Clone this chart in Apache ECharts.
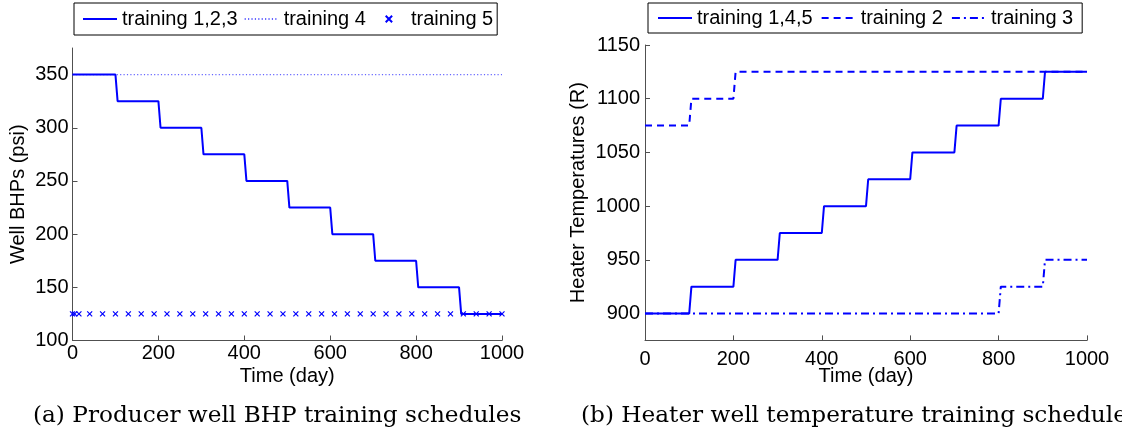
<!DOCTYPE html>
<html><head><meta charset="utf-8">
<script src="https://cdn.jsdelivr.net/npm/echarts@6/dist/echarts.min.js"></script>
<style>html,body{margin:0;padding:0;background:#fff}#c{width:1122px;height:437px}</style>
</head><body><div id="c"></div>
<script>
// ---- Panel (a): producer well BHP schedules (psi) ----
const bhpStepTimes = [0, 100, 200, 300, 400, 500, 600, 700, 800, 900, 1000];
const bhpTraining123 = [350, 325, 300, 275, 250, 225, 200, 175, 150, 125, 125];
const bhpTraining4Times = [0, 1000];
const bhpTraining4 = [350, 350];
const bhpTraining5Times = [0, 5, 15, 40, 70, 100, 130, 160, 190, 220, 250, 280, 310, 340, 370, 400, 430, 460, 490, 520, 550, 580, 610, 640, 670, 700, 730, 760, 790, 820, 850, 880, 910, 940, 970, 1000];
const bhpTraining5 = [125, 125, 125, 125, 125, 125, 125, 125, 125, 125, 125, 125, 125, 125, 125, 125, 125, 125, 125, 125, 125, 125, 125, 125, 125, 125, 125, 125, 125, 125, 125, 125, 125, 125, 125, 125];
const bhpYTicks = [100, 150, 200, 250, 300, 350];

// ---- Panel (b): heater well temperature schedules (R) ----
const heatStepTimes = [0, 100, 200, 300, 400, 500, 600, 700, 800, 900, 1000];
const heatTraining145 = [900, 925, 950, 975, 1000, 1025, 1050, 1075, 1100, 1125, 1125];
const heatTraining2 = [1075, 1100, 1125, 1125, 1125, 1125, 1125, 1125, 1125, 1125, 1125];
const heatTraining3 = [900, 900, 900, 900, 900, 900, 900, 900, 925, 950, 950];
const heatYTicks = [900, 950, 1000, 1050, 1100, 1150];

const timeTicks = [0, 200, 400, 600, 800, 1000];

const FONT = 'Liberation Sans';
const BLUE = '#0000ff';
const AXIS = '#505050';
const RAMP = 5; // days taken by each schedule change (slanted steps)

function stepPoints(times, vals) {
  const pts = [[times[0], vals[0]]];
  for (let i = 1; i < times.length; i++) {
    if (vals[i] !== vals[i - 1]) {
      pts.push([times[i], vals[i - 1]]);
      pts.push([times[i] + RAMP, vals[i]]);
    } else {
      pts.push([times[i], vals[i]]);
    }
  }
  return pts;
}
function pairs(xs, ys) { return xs.map((x, i) => [x, ys[i]]); }
const plain = v => String(v);

function xAxis(grid, labelMargin, nameGap) {
  return {
    gridIndex: grid, type: 'value', min: 0, max: 1000, interval: 200,
    name: 'Time (day)', nameLocation: 'middle', nameGap: nameGap, nameMoveOverlap: false,
    nameTextStyle: {fontFamily: FONT, fontSize: 20, color: '#000'},
    axisLine: {lineStyle: {color: AXIS, width: 1}},
    axisTick: {inside: true, length: 5, lineStyle: {color: AXIS}, customValues: timeTicks},
    axisLabel: {margin: labelMargin, fontFamily: FONT, fontSize: 20, color: '#000', customValues: timeTicks, formatter: plain},
    splitLine: {show: false}
  };
}
function yAxis(grid, min, max, ticks, name, nameGap, labelMargin) {
  return {
    gridIndex: grid, type: 'value', min: min, max: max, interval: 50,
    name: name, nameLocation: 'middle', nameGap: nameGap, nameMoveOverlap: false,
    nameTextStyle: {fontFamily: FONT, fontSize: 20, color: '#000'},
    axisLine: {show: true, lineStyle: {color: AXIS, width: 1}},
    axisTick: {show: true, inside: true, length: 5, lineStyle: {color: AXIS}, customValues: ticks},
    axisLabel: {margin: labelMargin, fontFamily: FONT, fontSize: 20, color: '#000', customValues: ticks, formatter: plain},
    splitLine: {show: false}
  };
}
function lineSeries(name, xi, data, lineStyle) {
  return {
    name: name, type: 'line', xAxisIndex: xi, yAxisIndex: xi, data: data,
    symbol: 'none', lineStyle: lineStyle, itemStyle: {color: lineStyle.color}, z: 2
  };
}
const legendBase = {
  orient: 'horizontal', itemWidth: 34, itemHeight: 8, itemGap: 6,
  borderColor: '#000', borderWidth: 1, backgroundColor: '#fff',
  textStyle: {fontFamily: FONT, fontSize: 20, color: '#000'}
};
const noDot = {opacity: 0};

const option = {
  animation: false,
  backgroundColor: '#fff',
  grid: [
    {left: 72.5, top: 48, width: 429.5, height: 292.5},
    {left: 645, top: 45, width: 442, height: 295.4}
  ],
  xAxis: [xAxis(0, 3, 26), xAxis(1, 9, 26)],
  yAxis: [
    yAxis(0, 100, 375, bhpYTicks, 'Well BHPs (psi)', 44, 4),
    yAxis(1, 875, 1150, heatYTicks, 'Heater Temperatures (R)', 57, 5)
  ],
  legend: [
    Object.assign({}, legendBase, {left: 74, top: 3, padding: [6, 4, 6, 8],
      data: [{name: 'training 1,2,3', itemStyle: noDot}, {name: 'training 4', itemStyle: noDot}, 'training 5']}),
    Object.assign({}, legendBase, {left: 648, top: 3, padding: [5, 9, 5, 9], itemGap: 8,
      data: [{name: 'training 1,4,5', itemStyle: noDot}, {name: 'training 2', itemStyle: noDot}, {name: 'training 3', itemStyle: noDot}]})
  ],
  series: [
    lineSeries('training 4', 0, pairs(bhpTraining4Times, bhpTraining4), {color: BLUE, width: 1.2, type: [1.2, 2.2], opacity: 0.6}),
    lineSeries('training 1,2,3', 0, stepPoints(bhpStepTimes, bhpTraining123), {color: BLUE, width: 2}),
    {
      name: 'training 5', type: 'line', xAxisIndex: 0, yAxisIndex: 0,
      data: pairs(bhpTraining5Times, bhpTraining5),
      symbol: 'path://M0,0L10,10M0,10L10,0', symbolSize: 5, showSymbol: true, showAllSymbol: true,
      lineStyle: {width: 0, opacity: 0},
      itemStyle: {color: 'none', borderColor: BLUE, borderWidth: 1.2}, z: 3
    },
    lineSeries('training 1,4,5', 1, stepPoints(heatStepTimes, heatTraining145), {color: BLUE, width: 2}),
    lineSeries('training 2', 1, stepPoints(heatStepTimes, heatTraining2), {color: BLUE, width: 2, type: [7, 5]}),
    lineSeries('training 3', 1, stepPoints(heatStepTimes, heatTraining3), {color: BLUE, width: 2, type: [8, 4, 2, 4]})
  ],
  graphic: [
    {type: 'text', left: 33, top: 404, style: {text: '(a) Producer well BHP training schedules', font: '23.2px "DejaVu Serif"', fill: '#000'}},
    {type: 'text', left: 581, top: 404, style: {text: '(b) Heater well temperature training schedules', font: '23.2px "DejaVu Serif"', fill: '#000'}}
  ]
};
const chart = echarts.init(document.getElementById('c'), null, {renderer: 'canvas'});
chart.setOption(option);
</script>
</body></html>
